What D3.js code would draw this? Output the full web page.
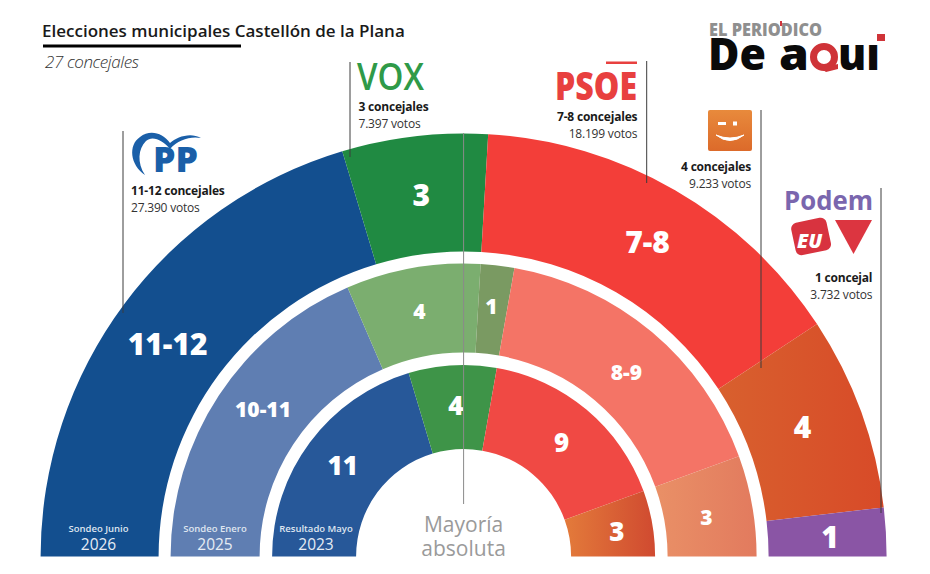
<!DOCTYPE html>
<html>
<head>
<meta charset="utf-8">
<style>
	html, body { margin: 0; padding: 0; background: #fff; }
	svg { display: block; }
	text { font-family: "Open Sans", sans-serif; }
</style>
</head>
<body>
<svg id="chart" width="930" height="574"></svg>
<script src="https://cdnjs.cloudflare.com/ajax/libs/d3/7.8.5/d3.min.js"></script>
<script>

// seats per party, one list per ring (the width of a slice is the seats)
var sondeoJunio = [11, 3, 8, 4, 1];
var sondeoEnero = [10, 4, 1, 9, 3];
var resultadoMayo = [11, 4, 9, 3];

// what is printed on the slices
var labelsJunio = ["11-12", "3", "7-8", "4", "1"];
var labelsEnero = ["10-11", "4", "1", "8-9", "3"];
var labelsMayo = ["11", "4", "9", "3"];

var coloresJunio = ["#134f8f", "#208a42", "#f33e39", "url(#gJunio)", "#8a55a5"];
var coloresEnero = ["#5f7eb2", "#7bae6f", "#7a9a62", "#f47466", "url(#gEnero)"];
var coloresMayo = ["#275899", "#3e9448", "#f04944", "url(#gMayo)"];

var ringTitles = ["Sondeo Junio", "Sondeo Enero", "Resultado Mayo"];
var ringYears = ["2026", "2025", "2023"];

var partyConcejales = ["11-12 concejales", "3 concejales", "7-8 concejales", "4 concejales", "1 concejal"];
var partyVotos = ["27.390 votos", "7.397 votos", "18.199 votos", "9.233 votos", "3.732 votos"];

var svg = d3.select("#chart");
var cx = 463.6, cy = 556.5;

var defs = svg.append("defs");
function hGradient(id, x1, x2, c1, c2) {
	var g = defs.append("linearGradient").attr("id", id)
		.attr("gradientUnits", "userSpaceOnUse")
		.attr("x1", x1).attr("x2", x2).attr("y1", 0).attr("y2", 0);
	g.append("stop").attr("offset", 0).attr("stop-color", c1);
	g.append("stop").attr("offset", 1).attr("stop-color", c2);
}
hGradient("gJunio", 720, 886, "#d8602e", "#d84a28");
hGradient("gEnero", 660, 758, "#e98f66", "#e27a5e");
hGradient("gMayo", 570, 655, "#e2783a", "#d04a30");
var gOrange = defs.append("linearGradient").attr("id", "gLogo").attr("x1", 0).attr("x2", 0).attr("y1", 0).attr("y2", 1);
gOrange.append("stop").attr("offset", 0).attr("stop-color", "#e88a3c");
gOrange.append("stop").attr("offset", 1).attr("stop-color", "#dc6a2a");

var pie = d3.pie().sort(null)
	.startAngle(-Math.PI / 2).endAngle(Math.PI / 2)
	.value(function(d) { return d; });

// small hand corrections, the labels are not all on the centroid in the original
var rings = [
	{ values: sondeoJunio, labels: labelsJunio, colors: coloresJunio, r0: 305, r1: 423, size: 30,
		nudge: [[-4, 5], [0, 0], [2, 1], [-3, -5], [3, 2]] },
	{ values: sondeoEnero, labels: labelsEnero, colors: coloresEnero, r0: 204, r1: 293, size: 21,
		nudge: [[7, -11], [-1, 0], [-1, -3], [3, 6], [-2, 4]] },
	{ values: resultadoMayo, labels: labelsMayo, colors: coloresMayo, r0: 107.5, r1: 191.5, size: 26,
		nudge: [[-1, -2], [1, -2], [2, 1], [6, 1]] }
];

var chart = svg.append("g").attr("transform", "translate(" + cx + "," + cy + ")");

rings.forEach(function(ring) {
	var arc = d3.arc().innerRadius(ring.r0).outerRadius(ring.r1);
	var slices = chart.append("g").selectAll("g")
		.data(pie(ring.values))
		.enter().append("g");
	slices.append("path")
		.attr("d", arc)
		.attr("fill", function(d, i) {
			return ring.colors[i];
		})
		.attr("transform", function(d, i) {
			// gradients are in page coordinates
			return null;
		});
	slices.append("text")
		.attr("x", function(d, i) { return arc.centroid(d)[0] + ring.nudge[i][0]; })
		.attr("y", function(d, i) { return arc.centroid(d)[1] + ring.nudge[i][1]; })
		.attr("dy", "0.36em")
		.attr("text-anchor", "middle")
		.attr("font-size", ring.size)
		.attr("font-weight", 800)
		.attr("fill", "#fff")
		.text(function(d, i) { return ring.labels[i]; });
});

// gradient ids are in user space of the path, so move them to the chart origin
defs.selectAll("linearGradient[gradientUnits]")
	.attr("gradientTransform", "translate(" + (-cx) + ",0)");

// ring captions at the foot of the left side
var captionX = [98.5, 215, 316];
ringTitles.forEach(function(t, i) {
	svg.append("text").attr("x", captionX[i]).attr("y", 531.5)
		.attr("text-anchor", "middle").attr("font-size", 9.5).attr("font-weight", 600)
		.attr("fill", "#dfe6f0").text(t);
	svg.append("text").attr("x", captionX[i]).attr("y", 550)
		.attr("text-anchor", "middle").attr("font-size", 15.5)
		.attr("fill", "#e6ecf4").text(ringYears[i]);
});

// leader lines
var leaders = [[123, 131, 313], [350, 62, 157], [646.7, 61, 183], [761, 110, 368], [881, 188, 513]];
svg.append("g").selectAll("line").data(leaders).enter().append("line")
	.attr("x1", function(d) { return d[0]; }).attr("x2", function(d) { return d[0]; })
	.attr("y1", function(d) { return d[1]; }).attr("y2", function(d) { return d[2]; })
	.attr("stroke", "#3c3c3c").attr("stroke-width", 1);
svg.append("line").attr("x1", cx).attr("x2", cx).attr("y1", 133).attr("y2", 504)
	.attr("stroke", "#8a8a8a").attr("stroke-width", 1);

// party texts
var partyX = [131, 358.5, 637.3, 751, 872.3];
var partyY = [195, 110.5, 121, 171, 281.7];
var partyAnchor = ["start", "start", "end", "end", "end"];
partyConcejales.forEach(function(t, i) {
	svg.append("text").attr("x", partyX[i]).attr("y", partyY[i])
		.attr("text-anchor", partyAnchor[i]).attr("font-size", 12).attr("font-weight", 700)
		.attr("letter-spacing", -0.2).attr("fill", "#1a1a1a").text(t);
	svg.append("text").attr("x", partyX[i]).attr("y", partyY[i] + 17)
		.attr("text-anchor", partyAnchor[i]).attr("font-size", 12)
		.attr("letter-spacing", -0.2).attr("fill", "#333").text(partyVotos[i]);
});

// title
svg.append("text").attr("x", 42).attr("y", 37).attr("font-size", 17).attr("font-weight", 600)
	.attr("fill", "#1a1a1a").text("Elecciones municipales Castellón de la Plana");
svg.append("rect").attr("x", 43).attr("y", 44.5).attr("width", 198).attr("height", 3).attr("fill", "#000");
svg.append("text").attr("x", 45).attr("y", 68).attr("font-size", 17).attr("font-weight", 300)
	.attr("font-style", "italic").attr("letter-spacing", -0.4).attr("fill", "#333").text("27 concejales");

// centre caption
svg.append("text").attr("x", cx).attr("y", 531.5).attr("text-anchor", "middle")
	.attr("font-size", 21).attr("fill", "#9a9a9a").text("Mayoría");
svg.append("text").attr("x", cx).attr("y", 556).attr("text-anchor", "middle")
	.attr("font-size", 21).attr("fill", "#9a9a9a").text("absoluta");

// --- logos ---
var logos = svg.append("g");

// PP
logos.append("path")
	.attr("d", "M145 175C130 165 128 145 140 137C150 129 163 133 170 143C177 137 190 132 201 138C190 136 178 140 170 149C163 140 152 135 146 141C138 149 137 163 145 175Z")
	.attr("fill", "#1a5fa8");
logos.append("text").attr("x", 153).attr("y", 172).attr("font-size", 36).attr("font-weight", 800)
	.attr("textLength", 45).attr("lengthAdjust", "spacingAndGlyphs")
	.attr("fill", "#1a5fa8").text("PP");

// VOX
logos.append("text").attr("x", 357).attr("y", 90).attr("font-size", 37).attr("font-weight", 600)
	.attr("textLength", 67).attr("lengthAdjust", "spacingAndGlyphs")
	.attr("fill", "#2f9a48").text("VOX");

// PSOE
logos.append("text").attr("x", 555).attr("y", 100).attr("font-size", 39).attr("font-weight", 800)
	.attr("textLength", 82).attr("lengthAdjust", "spacingAndGlyphs")
	.attr("fill", "#e8403f").text("PSOE");
logos.append("rect").attr("x", 606).attr("y", 61.5).attr("width", 31).attr("height", 2.5).attr("fill", "#e8403f");

// Compromís
logos.append("rect").attr("x", 708).attr("y", 110).attr("width", 44).attr("height", 41)
	.attr("rx", 2).attr("fill", "url(#gLogo)");
logos.append("path").attr("d", "M716 135Q730 146 744 135Q730 141 716 135Z")
	.attr("fill", "#fff").attr("stroke", "#fff").attr("stroke-width", 1);
logos.append("rect").attr("x", 718).attr("y", 122).attr("width", 8).attr("height", 3).attr("fill", "#fff");
logos.append("rect").attr("x", 733).attr("y", 121.5).attr("width", 4).attr("height", 4).attr("fill", "#fff");

// Podem + EU
logos.append("text").attr("x", 784).attr("y", 210).attr("font-size", 27).attr("font-weight", 700)
	.attr("textLength", 89).attr("lengthAdjust", "spacingAndGlyphs")
	.attr("fill", "#7a66ae").text("Podem");
logos.append("path").attr("d", "M835 220H872L853.5 254Z").attr("fill", "#dc3540");
logos.append("rect").attr("x", 793).attr("y", 220).attr("width", 36).attr("height", 33).attr("rx", 6)
	.attr("transform", "rotate(-12 811 236)").attr("fill", "#d8333f");
logos.append("text").attr("x", 797).attr("y", 248).attr("font-size", 20).attr("font-weight", 800)
	.attr("font-style", "italic").attr("fill", "#fff").text("EU");

// El Periódico de Aquí
logos.append("text").attr("x", 709).attr("y", 36).attr("font-size", 17.5).attr("font-weight", 800)
	.attr("textLength", 113).attr("lengthAdjust", "spacingAndGlyphs")
	.attr("fill", "#8f8f8f").text("EL PERIODICO");
logos.append("rect").attr("x", 780).attr("y", 21).attr("width", 2).attr("height", 5).attr("fill", "#d0333a");
logos.append("text").attr("x", 708).attr("y", 70).attr("font-size", 45).attr("font-weight", 800)
	.attr("textLength", 58).attr("lengthAdjust", "spacingAndGlyphs")
	.attr("fill", "#0a0a0a").text("De");
logos.append("text").attr("x", 779).attr("y", 70).attr("font-size", 45).attr("font-weight", 800)
	.attr("textLength", 30).attr("lengthAdjust", "spacingAndGlyphs")
	.attr("fill", "#0a0a0a").text("a");
logos.append("circle").attr("cx", 824).attr("cy", 57).attr("r", 10.5).attr("fill", "none")
	.attr("stroke", "#cf3338").attr("stroke-width", 7);
logos.append("path").attr("d", "M820 68L838 64L838 69L826 72Z").attr("fill", "#cf3338");
logos.append("text").attr("x", 838).attr("y", 70).attr("font-size", 45).attr("font-weight", 800)
	.attr("textLength", 42).attr("lengthAdjust", "spacingAndGlyphs")
	.attr("fill", "#0a0a0a").text("uı");
logos.append("rect").attr("x", 877).attr("y", 34).attr("width", 8).attr("height", 7).attr("fill", "#cf3338");

</script>
</body>
</html>
